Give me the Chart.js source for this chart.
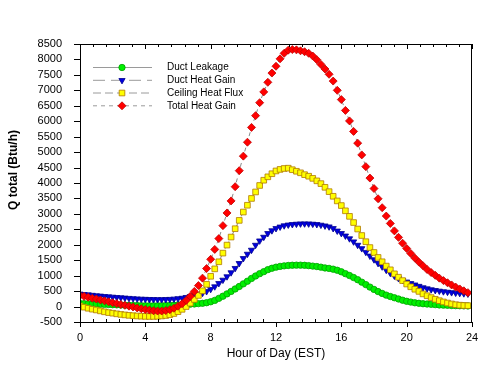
<!DOCTYPE html>
<html>
<head>
<meta charset="utf-8">
<script src="https://cdn.jsdelivr.net/npm/chart.js@4.4.0/dist/chart.umd.min.js"></script>
<style>
  html, body { margin: 0; padding: 0; background: #fff; }
</style>
</head>
<body>
<canvas id="heatChart" width="496" height="369"></canvas>
<script>
const FONT = "'Liberation Sans', Arial, sans-serif";

// hour of day, every 15 minutes
const hours = [
  0, 0.25, 0.5, 0.75, 1, 1.25, 1.5, 1.75, 2, 2.25, 2.5, 2.75, 3, 3.25, 3.5, 3.75,
  4, 4.25, 4.5, 4.75, 5, 5.25, 5.5, 5.75, 6, 6.25, 6.5, 6.75, 7, 7.25, 7.5, 7.75,
  8, 8.25, 8.5, 8.75, 9, 9.25, 9.5, 9.75, 10, 10.25, 10.5, 10.75, 11, 11.25, 11.5, 11.75,
  12, 12.25, 12.5, 12.75, 13, 13.25, 13.5, 13.75, 14, 14.25, 14.5, 14.75, 15, 15.25, 15.5, 15.75,
  16, 16.25, 16.5, 16.75, 17, 17.25, 17.5, 17.75, 18, 18.25, 18.5, 18.75, 19, 19.25, 19.5, 19.75,
  20, 20.25, 20.5, 20.75, 21, 21.25, 21.5, 21.75, 22, 22.25, 22.5, 22.75, 23, 23.25, 23.5, 23.75
];

const ductLeakage = [
  100, 95, 90, 85, 80, 75, 70, 65, 60, 55, 50, 45, 40, 36, 32, 28,
  25, 24, 24, 25, 28, 32, 38, 45, 55, 62, 70, 78, 85, 95, 105, 125,
  155, 200, 265, 335, 410, 490, 570, 650, 735, 820, 910, 990, 1065, 1130, 1195, 1240,
  1275, 1300, 1318, 1330, 1337, 1340, 1340, 1335, 1325, 1310, 1295, 1275, 1250, 1235, 1210, 1175,
  1125, 1065, 1005, 940, 870, 790, 710, 630, 555, 485, 425, 370, 325, 285, 245, 205,
  170, 145, 122, 105, 92, 82, 72, 62, 52, 46, 40, 35, 30, 26, 22, 20
];

const ductHeatGain = [
  410, 395, 385, 370, 355, 345, 330, 320, 310, 300, 290, 280, 270, 260, 252, 245,
  240, 235, 232, 230, 230, 232, 238, 247, 260, 275, 300, 330, 360, 395, 435, 490,
  560, 645, 750, 860, 970, 1100, 1240, 1400, 1560, 1700, 1830, 1990, 2130, 2250, 2370, 2460,
  2530, 2580, 2620, 2645, 2660, 2672, 2680, 2682, 2680, 2672, 2660, 2640, 2615, 2585, 2530, 2450,
  2370, 2290, 2200, 2100, 1990, 1880, 1760, 1640, 1520, 1400, 1290, 1180, 1080, 990, 910, 850,
  800, 750, 705, 660, 615, 580, 550, 525, 505, 485, 470, 455, 440, 430, 420, 410
];

const ceilingHeatFlux = [
  20, -20, -55, -85, -110, -140, -170, -195, -215, -235, -255, -270, -285, -295, -305, -312,
  -318, -320, -320, -315, -305, -290, -265, -225, -165, -90, 0, 110, 230, 360, 510, 720,
  980, 1220, 1450, 1730, 1990, 2250, 2520, 2790, 3060, 3280, 3500, 3710, 3920, 4090, 4200, 4300,
  4390, 4440, 4470, 4480, 4430, 4380, 4330, 4270, 4220, 4150, 4070, 3980, 3860, 3720, 3570, 3420,
  3270, 3100, 2920, 2720, 2510, 2300, 2100, 1910, 1750, 1590, 1450, 1310, 1190, 1060, 950, 840,
  730, 640, 560, 490, 410, 350, 290, 235, 190, 150, 115, 85, 60, 45, 35, 30
];

const totalHeatGain = [
  360, 330, 300, 270, 245, 215, 185, 155, 125, 95, 68, 40, 12, -15, -45, -70,
  -95, -115, -135, -145, -145, -130, -100, -55, 10, 90, 200, 330, 490, 680, 920, 1230,
  1530, 1850, 2200, 2620, 3030, 3420, 3880, 4400, 4870, 5320, 5800, 6180, 6600, 6950, 7260, 7560,
  7780, 8020, 8200, 8300, 8320, 8310, 8280, 8250, 8200, 8110, 7990, 7840, 7690, 7520, 7300, 7000,
  6700, 6350, 6010, 5670, 5290, 4910, 4530, 4160, 3820, 3490, 3200, 2930, 2690, 2450, 2240, 2050,
  1880, 1720, 1570, 1440, 1320, 1200, 1100, 1010, 920, 840, 770, 700, 630, 570, 510, 450
];

const seriesNames = ["Duct Leakage", "Duct Heat Gain", "Ceiling Heat Flux", "Total Heat Gain"];
const xMajorTicks = [0, 4, 8, 12, 16, 20, 24];

const toPoints = (values) => values.map((v, i) => ({ x: hours[i], y: v }));

const makeSet = (label, values, style, fill, edge, dash, order, radius, rotation) => ({
  label,
  data: toPoints(values),
  borderColor: "#8a8a8a",
  borderWidth: 1,
  borderDash: dash,
  pointStyle: style,
  pointRadius: radius,
  pointRotation: rotation || 0,
  pointBackgroundColor: fill,
  pointBorderColor: edge,
  pointBorderWidth: 0.8,
  tension: 0,
  order
});

const data = {
  datasets: [
    makeSet(seriesNames[0], ductLeakage, "circle", "#00f000", "#00a000", [], 3, 3.2),
    makeSet(seriesNames[1], ductHeatGain, "triangle", "#0000e0", "#000090", [12, 6], 2, 3.6, 180),
    makeSet(seriesNames[2], ceilingHeatFlux, "rect", "#ffff00", "#b07800", [8, 4], 1, 4),
    makeSet(seriesNames[3], totalHeatGain, "rectRot", "#ff0000", "#c00000", [4, 4], 0, 4)
  ]
};

// box, tick marks, y title and legend drawn like the original plot
const framePlugin = {
  id: "frame",
  afterDraw(chart) {
    const { ctx, chartArea: a, scales } = chart;
    const xs = scales.x, ys = scales.y;
    ctx.save();
    ctx.strokeStyle = "#000";
    ctx.lineWidth = 1;
    ctx.setLineDash([]);
    ctx.strokeRect(a.left + 0.5, a.top + 0.5, a.right - a.left - 1, a.bottom - a.top);

    ctx.beginPath();
    // y ticks, outside on the left
    for (let v = ys.min; v <= ys.max; v += 500) {
      const y = Math.round(ys.getPixelForValue(v)) + 0.5;
      ctx.moveTo(a.left - 6, y); ctx.lineTo(a.left, y);
    }
    // x ticks: majors below the axis, minors inside; top axis minors inside
    xMajorTicks.forEach((h, k) => {
      const x = Math.round(xs.getPixelForValue(h)) + 0.5;
      ctx.moveTo(x, a.bottom); ctx.lineTo(x, a.bottom + 5);
      ctx.moveTo(x, a.top); ctx.lineTo(x, a.top + 5);
      if (k < xMajorTicks.length - 1) {
        for (let m = 1; m < 5; m++) {
          const xm = Math.round(xs.getPixelForValue(h + m * 0.8)) + 0.5;
          ctx.moveTo(xm, a.bottom); ctx.lineTo(xm, a.bottom - 3);
          ctx.moveTo(xm, a.top); ctx.lineTo(xm, a.top + 3);
        }
      }
    });
    ctx.stroke();

    // y axis title
    ctx.save();
    ctx.translate(14, 170);
    ctx.rotate(-Math.PI / 2);
    ctx.font = "bold 12px " + FONT;
    ctx.fillStyle = "#000";
    ctx.textAlign = "center";
    ctx.textBaseline = "middle";
    ctx.fillText("Q total (Btu/h)", 0, 0);
    ctx.restore();

    // legend
    const rows = [67.5, 80.3, 93, 105.8];
    chart.data.datasets.forEach((ds, i) => {
      const y = rows[i];
      ctx.strokeStyle = "#9a9a9a";
      ctx.lineWidth = 1;
      ctx.setLineDash(ds.borderDash);
      ctx.beginPath();
      ctx.moveTo(93, y); ctx.lineTo(152, y);
      ctx.stroke();
      ctx.setLineDash([]);
      ctx.fillStyle = ds.pointBackgroundColor;
      ctx.strokeStyle = ds.pointBorderColor;
      ctx.lineWidth = ds.pointBorderWidth;
      Chart.helpers.drawPoint(ctx, {
        pointStyle: ds.pointStyle, radius: ds.pointRadius,
        rotation: ds.pointRotation, borderWidth: ds.pointBorderWidth
      }, 122, y);
      ctx.fillStyle = "#000";
      ctx.font = "10px " + FONT;
      ctx.textAlign = "left";
      ctx.textBaseline = "middle";
      ctx.fillText(ds.label, 167, y);
    });
    ctx.restore();
  }
};

new Chart("heatChart", {
  type: "line",
  data,
  options: {
    responsive: false,
    animation: false,
    layout: { padding: { top: 44, right: 24, left: 0, bottom: 0 } },
    plugins: { legend: { display: false }, tooltip: { enabled: false } },
    scales: {
      x: {
        type: "linear", min: 0, max: 24,
        grid: { display: false }, border: { display: false },
        ticks: { stepSize: 4, padding: 1, maxRotation: 0, autoSkip: false, color: "#000", font: { family: FONT, size: 11 },
                 callback: (v) => String(v) },
        title: { display: true, text: "Hour of Day (EST)", color: "#000", font: { family: FONT, size: 12 }, padding: { top: 8, bottom: 8 } },
        afterFit: (s) => { s.height = 47; }
      },
      y: {
        min: -500, max: 8500,
        grid: { display: false }, border: { display: false },
        ticks: { stepSize: 500, padding: 10, autoSkip: false, color: "#000", font: { family: FONT, size: 11 },
                 callback: (v) => String(v) },
        afterFit: (s) => { s.width = 80; }
      }
    }
  },
  plugins: [framePlugin]
});
</script>
</body>
</html>
